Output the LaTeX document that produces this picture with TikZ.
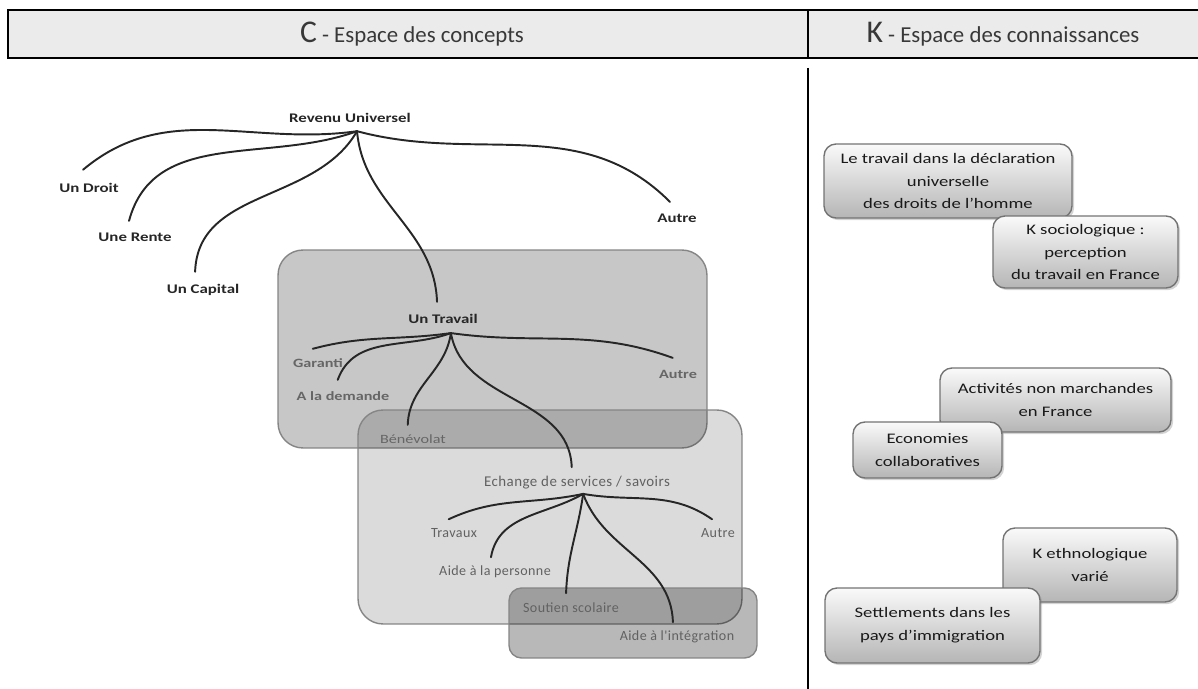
\documentclass[tikz,border=0pt]{standalone}
\usepackage{fontspec}
\setmainfont{Carlito}[FakeStretch=1.28]
\newfontfamily\spacedfont{Carlito}[LetterSpace=3]
\newfontfamily\headfont{Carlito}
\usepackage{tikz}
\usetikzlibrary{positioning, shadows, backgrounds}
\definecolor{headgray}{HTML}{EBEBEB}
\definecolor{zoneline}{HTML}{858585}
\tikzset{
    branch/.style={line width=1.1pt, draw=black!85, line cap=round},
    leaf/.style={inner sep=1pt, text height=6pt, text depth=1.5pt,
        font=\fontsize{7.5}{9}\selectfont\bfseries, text=black!85},
    subleaf/.style={leaf, font=\fontsize{7.2}{9}\selectfont\bfseries, text=black!60},
    thinleaf/.style={inner sep=1pt, text height=5.5pt, text depth=1.5pt,
        font=\fontsize{8}{9}\selectfont\spacedfont, text=black!62},
    zone/.style={draw=zoneline, line width=0.8pt, fill=black, rounded corners=0.5cm},
    kbox/.style={draw=black!55, line width=0.8pt, rounded corners=0.24cm,
        top color=gray!4, bottom color=gray!58, align=center,
        font=\fontsize{8.3}{13}\selectfont, text=black!90,
        drop shadow={opacity=0.35, shadow xshift=1.2pt, shadow yshift=-1.2pt}},
    headtitle/.style={font=\headfont\fontsize{13}{14}\selectfont, text=black!78}
}
\begin{document}
\begin{tikzpicture}[x=0.02cm, y=-0.02cm]
    \useasboundingbox (0,0) rectangle (1198,689);

    % --- HEADER ---
    \fill[headgray] (8,10) rectangle (1198,58);
    \draw[line width=1.3pt] (1198,10) -- (8,10) -- (8,58) -- (1198,58);
    \draw[line width=0.9pt] (808,10) -- (808,58);
    \node[headtitle] (ctitle) at (412,34) {{\fontsize{18}{18}\selectfont C} - Espace des concepts};
    \node[headtitle] (ktitle) at (1003,34) {{\fontsize{18}{18}\selectfont K} - Espace des connaissances};
    \draw[line width=1.4pt] (808,68) -- (808,689);

    % --- ZONES (C side) ---
    \node[zone, fill opacity=0.22, minimum width=8.58cm, minimum height=3.96cm] (zonetravail) at (492.5,349) {};
    \node[zone, fill opacity=0.14, minimum width=7.68cm, minimum height=4.28cm] (zoneechange) at (550,517) {};
    \node[zone, fill opacity=0.28, rounded corners=0.25cm, minimum width=4.96cm, minimum height=1.4cm] (zonesoutien) at (633,623) {};

    % --- LEVEL 1 ---
    \node[leaf] (rev) at (350,119) {Revenu Universel};
    \node[leaf] (droit) at (89,189) {Un Droit};
    \node[leaf] (rente) at (135,238) {Une Rente};
    \node[leaf] (capital) at (203,290) {Un Capital};
    \node[leaf] (travail) at (443,320) {Un Travail};
    \node[leaf] (autre1) at (677,219) {Autre};
    \coordinate (revroot) at ([xshift=4pt,yshift=-2pt]rev.south);

    % --- LEVEL 2 (travail) ---
    \node[subleaf] (garanti) at (318,364) {Garanti};
    \node[subleaf] (demande) at (343,397) {A la demande};
    \node[subleaf, font=\fontsize{7.2}{9}\selectfont] (benevolat) at (413,440) {Bénévolat};
    \node[subleaf] (autre2) at (678,375) {Autre};
    \node[thinleaf, font=\fontsize{8.5}{9}\selectfont\spacedfont] (echange) at (577,483) {Echange de services / savoirs};
    \coordinate (travroot) at ([xshift=4.5pt,yshift=-2.5pt]travail.south);

    % --- LEVEL 3 (echange) ---
    \node[thinleaf] (travaux) at (454,534) {Travaux};
    \node[thinleaf] (personne) at (495,572) {Aide à la personne};
    \node[thinleaf] (soutien) at (571,609) {Soutien scolaire};
    \node[thinleaf] (integration) at (677,637) {Aide à l'intégration};
    \node[thinleaf] (autre3) at (718,534) {Autre};
    \coordinate (echroot) at ([xshift=3.5pt,yshift=-1.5pt]echange.south);

    % --- BRANCHES ---
    \draw[branch] (revroot) to[out=188, in=40] ([xshift=-3.4pt,yshift=6pt]droit.north);
    \draw[branch] (revroot) to[out=200, in=75] ([xshift=-3.4pt,yshift=4.8pt]rente.north);
    \draw[branch] (revroot) to[out=240, in=88] ([xshift=-4.5pt,yshift=5.4pt]capital.north);
    \draw[branch] (revroot) to[out=275, in=92] ([xshift=-3.4pt,yshift=5.4pt]travail.north);
    \draw[branch] (revroot) to[out=-15, in=135] ([xshift=-4pt,yshift=4.8pt]autre1.north);

    \draw[branch] (travroot) to[out=188, in=15] ([xshift=-3pt,yshift=3.7pt]garanti.north);
    \draw[branch] (travroot) to[out=200, in=70] ([xshift=-3pt,yshift=4.8pt]demande.north);
    \draw[branch] (travroot) to[out=262, in=88] ([xshift=-3pt,yshift=3.7pt]benevolat.north);
    \draw[branch] (travroot) to[out=280, in=92] ([xshift=-3pt,yshift=4.3pt]echange.north);
    \draw[branch] (travroot) to[out=-8, in=160] ([xshift=-3pt,yshift=4.8pt]autre2.north);

    \draw[branch] (echroot) to[out=192, in=25] ([xshift=-3pt,yshift=3.7pt]travaux.north);
    \draw[branch] (echroot) to[out=210, in=80] ([xshift=-2.3pt,yshift=3.7pt]personne.north);
    \draw[branch] (echroot) to[out=262, in=88] ([xshift=-2.8pt,yshift=4.3pt]soutien.north);
    \draw[branch] (echroot) to[out=290, in=92] ([xshift=-2.3pt,yshift=3.7pt]integration.north);
    \draw[branch] (echroot) to[out=-10, in=145] ([xshift=-3.4pt,yshift=3.7pt]autre3.north);

    % --- K side ---
    \node[kbox, minimum width=4.96cm, minimum height=1.48cm] (kdecl) at (948,181) {Le travail dans la déclaration\\universelle\\des droits de l’homme};
    \node[kbox, minimum width=3.7cm, minimum height=1.44cm] (ksocio) at (1085.5,252) {K sociologique :\\perception\\du travail en France};
    \node[kbox, minimum width=4.62cm, minimum height=1.28cm] (knonmarch) at (1055.5,400) {Activités non marchandes\\en France};
    \node[kbox, minimum width=2.98cm, minimum height=1.12cm] (kcollab) at (927.5,450) {Economies\\collaboratives};
    \node[kbox, minimum width=3.48cm, minimum height=1.48cm] (kethno) at (1090,565) {K ethnologique\\varié};
    \node[kbox, minimum width=4.3cm, minimum height=1.5cm] (ksettle) at (932.5,625.5) {Settlements dans les\\pays d’immigration};

\end{tikzpicture}
\end{document}
